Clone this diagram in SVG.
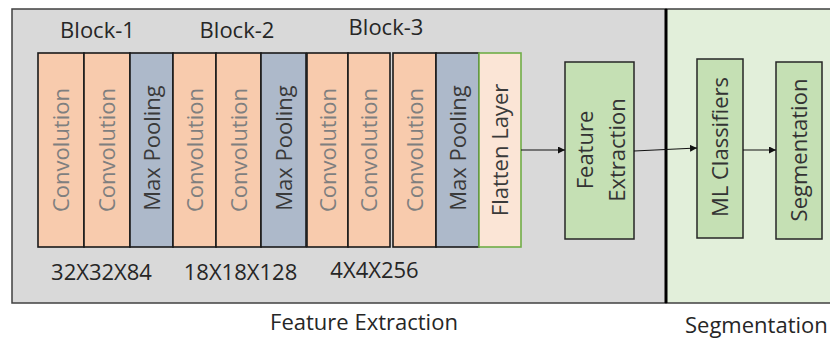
<svg xmlns="http://www.w3.org/2000/svg" width="830" height="338" viewBox="0 0 830 338">
<style>
text{font-family:"Open Sans","Liberation Sans",sans-serif;font-size:22px;}
.lbl{fill:#262626;text-anchor:middle;}
.conv{fill:#F8CBAD;stroke:#1a1a1a;stroke-width:1.6;}
.pool{fill:#ADB9CA;stroke:#1a1a1a;stroke-width:1.6;}
.flat{fill:#FBE5D6;stroke:#70AD47;stroke-width:1.6;}
.box{fill:#C5E0B4;stroke:#262626;stroke-width:1.5;}
.tc{fill:#7F7F7F;text-anchor:middle;}
.tp{fill:#3A3A3A;text-anchor:middle;}
.tb{fill:#333333;text-anchor:middle;}
.arr{stroke:#111;stroke-width:1.2;fill:none;marker-end:url(#ah);}
</style>
<defs>
<marker id="ah" viewBox="0 0 10 10" refX="10" refY="5" markerWidth="7" markerHeight="7" markerUnits="userSpaceOnUse" orient="auto">
<path d="M0,0 L10,5 L0,10 z" fill="#111"/>
</marker>
</defs>
<rect width="830" height="338" fill="#ffffff"/>
<g id="panel-feature">
<rect x="12" y="9" width="654" height="294" fill="#D9D9D9" stroke="#404040" stroke-width="1.5"/>
</g>
<g id="panel-segmentation">
<rect x="666" y="9" width="170" height="294" fill="#E2EFDA" stroke="#404040" stroke-width="1.5"/>
<line x1="666" y1="9" x2="666" y2="303" stroke="#000" stroke-width="3"/>
</g>
<g id="labels">
<text class="lbl" x="97.5" y="38">Block-1</text>
<text class="lbl" x="237" y="38">Block-2</text>
<text class="lbl" x="386" y="35">Block-3</text>
<text class="lbl" x="101.5" y="280">32X32X84</text>
<text class="lbl" x="240.5" y="280">18X18X128</text>
<text class="lbl" x="374.5" y="278">4X4X256</text>
<text class="lbl" x="364" y="330">Feature Extraction</text>
<text fill="#262626" x="685" y="333">Segmentation</text>
</g>
<g id="conv1"><rect class="conv" x="38" y="53" width="46" height="194"/><text class="tc" transform="translate(61,150) rotate(-90)" y="8">Convolution</text></g>
<g id="conv2"><rect class="conv" x="84" y="53" width="46" height="194"/><text class="tc" transform="translate(107,150) rotate(-90)" y="8">Convolution</text></g>
<g id="pool1"><rect class="pool" x="130" y="53" width="43" height="194"/><text class="tp" transform="translate(151.5,148) rotate(-90)" y="8">Max Pooling</text></g>
<g id="conv3"><rect class="conv" x="173" y="53" width="43" height="194"/><text class="tc" transform="translate(194.5,150) rotate(-90)" y="8">Convolution</text></g>
<g id="conv4"><rect class="conv" x="216" y="53" width="45" height="194"/><text class="tc" transform="translate(238.5,150) rotate(-90)" y="8">Convolution</text></g>
<g id="pool2"><rect class="pool" x="261" y="53" width="45" height="194"/><text class="tp" transform="translate(283.5,148) rotate(-90)" y="8">Max Pooling</text></g>
<g id="conv5"><rect class="conv" x="307" y="53" width="41" height="194"/><text class="tc" transform="translate(327.5,150) rotate(-90)" y="8">Convolution</text></g>
<g id="conv6"><rect class="conv" x="348" y="53" width="42" height="194"/><text class="tc" transform="translate(369,150) rotate(-90)" y="8">Convolution</text></g>
<g id="conv7"><rect class="conv" x="393" y="53" width="43" height="194"/><text class="tc" transform="translate(414.5,150) rotate(-90)" y="8">Convolution</text></g>
<g id="pool3"><rect class="pool" x="436" y="53" width="43" height="194"/><text class="tp" transform="translate(457.5,148) rotate(-90)" y="8">Max Pooling</text></g>
<g id="flatten"><rect class="flat" x="479" y="53" width="42" height="194"/><text class="tp" transform="translate(500,150) rotate(-90)" y="8">Flatten Layer</text></g>
<g id="feature-extraction"><rect class="box" x="565" y="62" width="69" height="177"/>
<text class="tb" transform="translate(599.5,150) rotate(-90)"><tspan x="0" y="-7">Feature</tspan><tspan x="0" y="25">Extraction</tspan></text></g>
<g id="ml-classifiers"><rect class="box" x="697" y="59" width="46" height="179"/><text class="tb" transform="translate(720,147) rotate(-90)" y="8">ML Classifiers</text></g>
<g id="segmentation"><rect class="box" x="776" y="62" width="46" height="177"/><text class="tb" transform="translate(799,150) rotate(-90)" y="8">Segmentation</text></g>
<g id="connectors">
<line class="arr" x1="521" y1="150" x2="565" y2="150"/>
<line class="arr" x1="634" y1="151" x2="697" y2="148"/>
<line class="arr" x1="743" y1="150" x2="776" y2="150"/>
</g>
</svg>
